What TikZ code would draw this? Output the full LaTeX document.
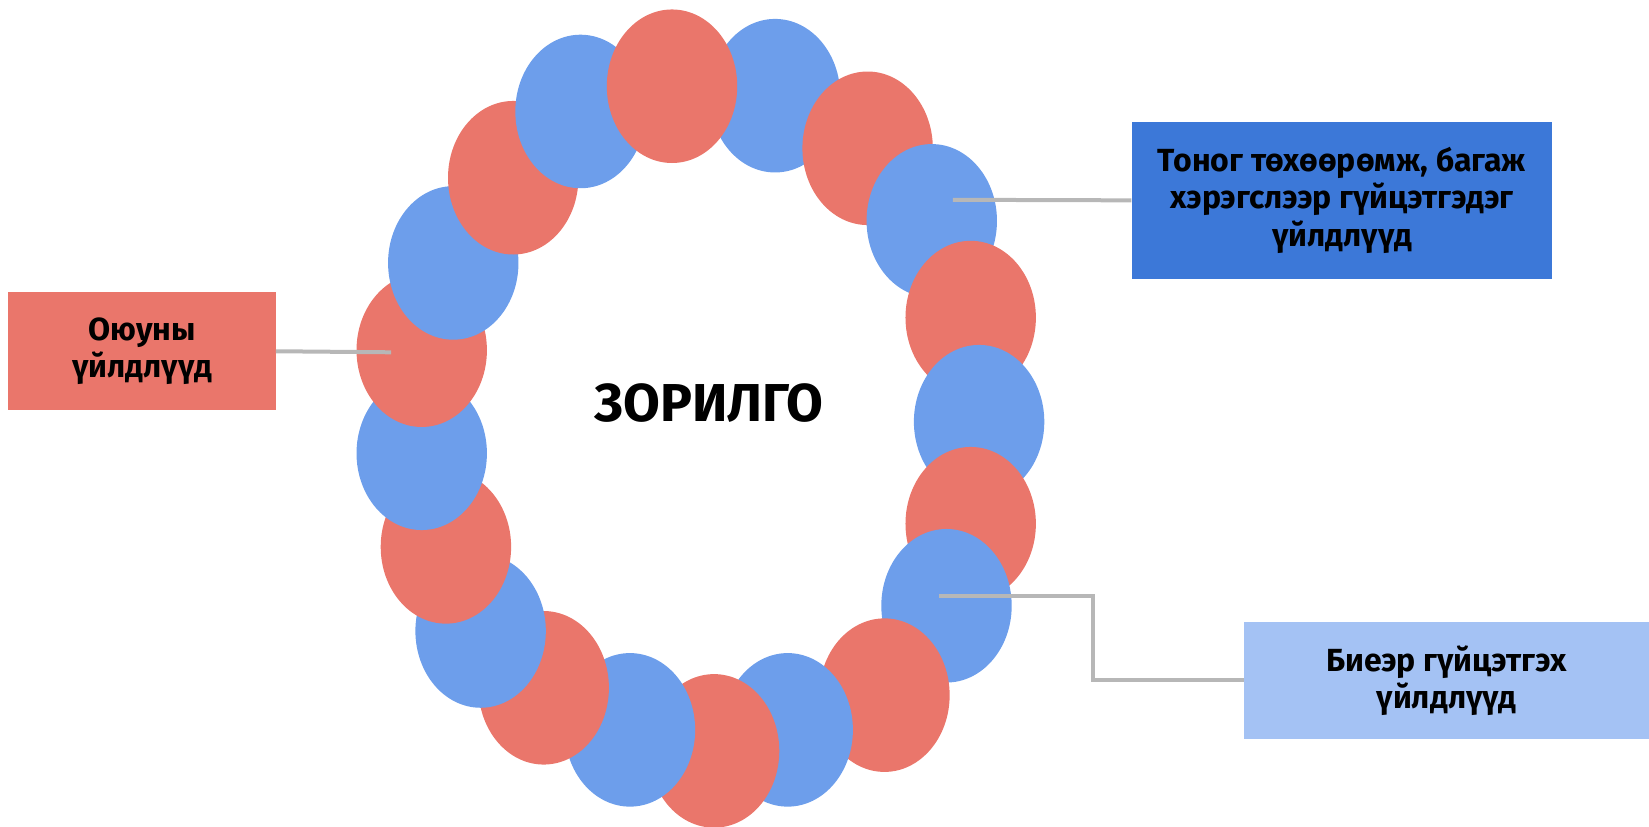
\documentclass[tikz,border=0pt]{standalone}
\usepackage{fontspec}
\setmainfont{Fira Sans}
\usetikzlibrary{shapes.geometric}
\definecolor{beadred}{RGB}{234,118,107}
\definecolor{beadblue}{RGB}{109,158,235}
\definecolor{darkblue}{RGB}{60,120,216}
\definecolor{lightblue}{RGB}{164,194,244}
\definecolor{conngrey}{RGB}{183,183,183}
\begin{document}
\begin{tikzpicture}[x=0.7888pt,y=-0.7888pt,
  bead/.style={ellipse,draw=none,fill=#1,inner sep=0pt,minimum width=124*0.7888pt,minimum height=146*0.7888pt},
  boxnode/.style={rectangle,draw=none,fill=#1,inner sep=0pt,align=center,font=\bfseries\fontsize{24}{28}\selectfont},
  conn/.style={draw=conngrey,line width=3pt}]
\useasboundingbox (0,0) rectangle (1568,786);
% beads, drawn from bottom-most to top-most
\node[bead=beadblue] (b1)  at (737,91)  {};
\node[bead=beadred]  (b2)  at (825,141) {};
\node[bead=beadblue] (b3)  at (886,210) {};
\node[bead=beadred]  (b4)  at (923,302) {};
\node[bead=beadblue] (b5)  at (931,401) {};
\node[bead=beadred]  (b6)  at (923,498) {};
\node[bead=beadblue] (b7)  at (900,576) {};
\node[bead=beadred]  (b8)  at (841,661) {};
\node[bead=beadblue] (b9)  at (749,694) {};
\node[bead=beadred]  (b10) at (679,714) {};
\node[bead=beadblue] (b11) at (599,694) {};
\node[bead=beadred]  (b12) at (517,654) {};
\node[bead=beadblue] (b13) at (457,600) {};
\node[bead=beadred]  (b14) at (424,520) {};
\node[bead=beadblue] (b15) at (401,431) {};
\node[bead=beadred]  (b16) at (401,333) {};
\node[bead=beadblue] (b17) at (431,250) {};
\node[bead=beadred]  (b18) at (488,169) {};
\node[bead=beadblue] (b19) at (552,106) {};
\node[bead=beadred]  (b20) at (639,82)  {};
% centre title
\node[font=\bfseries\fontsize{40}{46}\selectfont] (goal) at (674,383) {ЗОРИЛГО};
% boxes
\node[boxnode=beadred,minimum width=254*0.7888pt,minimum height=112*0.7888pt] (boxL) at (135,334) {Оюуны\\үйлдлүүд};
\node[boxnode=darkblue,minimum width=400*0.7888pt,minimum height=149*0.7888pt] (boxT) at (1276,190.5) {Тоног төхөөрөмж, багаж\\хэрэгслээр гүйцэтгэдэг\\үйлдлүүд};
\node[boxnode=lightblue,minimum width=385*0.7888pt,minimum height=112*0.7888pt] (boxB) at (1375.5,647) {Биеэр гүйцэтгэх\\үйлдлүүд};
% connector ends
\coordinate (cL) at (372,335);
\coordinate (cT) at (906,190);
\coordinate (cB) at (893,567);
\coordinate (kB) at (1039,567);
\draw[conn] (boxL.east) -- (cL);
\draw[conn] (cT) -- (boxT.west);
\draw[conn] (cB) -- (kB) |- (boxB.west);
\end{tikzpicture}
\end{document}
